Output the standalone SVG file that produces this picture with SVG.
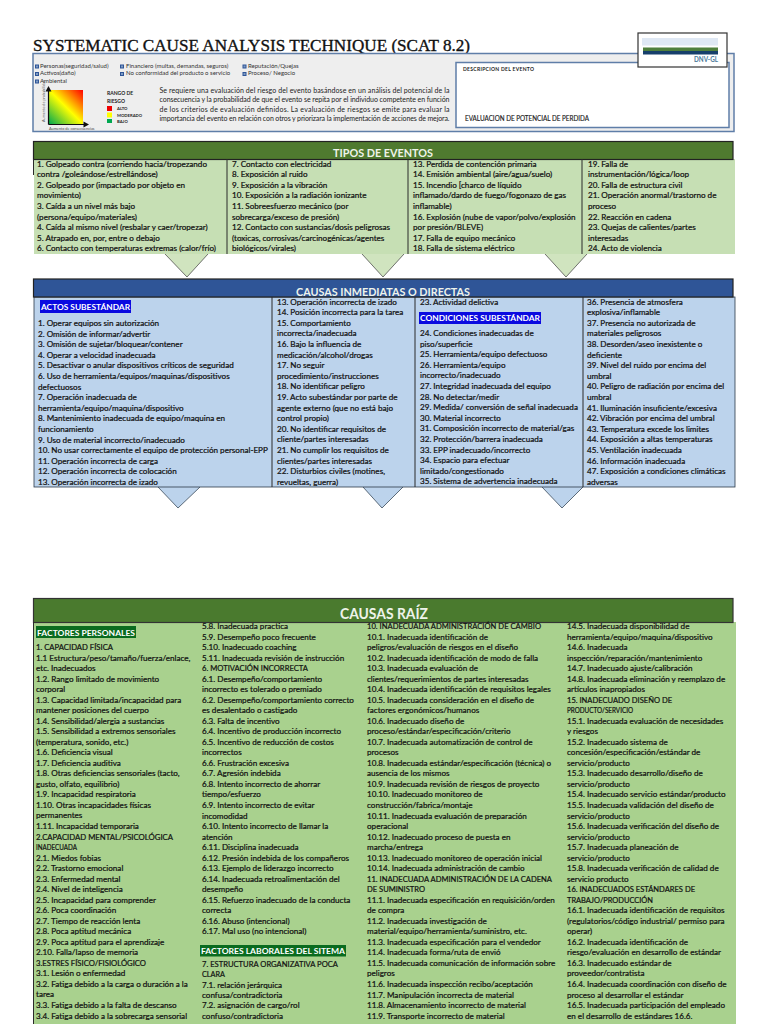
<svg xmlns="http://www.w3.org/2000/svg" width="768" height="1024" viewBox="0 0 768 1024">
<style>
text{font-family:"Lato","Liberation Sans",sans-serif;fill:#1c1c1c}
.b text{font-size:8.1px;fill:#111;stroke:#111;stroke-width:.22px}
.h{font-size:12px;fill:#eef3ea;text-anchor:middle;font-weight:700}
.k{font-weight:700;font-size:8.4px;fill:#fff}
.s{font-size:6px;fill:#333}
.cb{fill:#7f9cc4;stroke:#2f5597;stroke-width:1}
.sep{stroke:#2b2b2b;stroke-width:1;fill:none}
.lg{font-size:4.2px;font-weight:700}
</style>
<defs>
<linearGradient id="risk" x1="0" y1="1" x2="1" y2="0"><stop offset="0" stop-color="#00a84f"/><stop offset=".5" stop-color="#ffff00"/><stop offset="1" stop-color="#ff0000"/></linearGradient>
</defs>
<rect width="768" height="1024" fill="#fff"/>
<g id="title"><text x="33" y="50.500" textLength="437" lengthAdjust="spacingAndGlyphs" style="font-family:'Liberation Serif',serif;font-size:16.500px;fill:#111;stroke:#111;stroke-width:.35px">SYSTEMATIC CAUSE ANALYSIS TECHNIQUE (SCAT 8.2)</text></g>

<g id="header-panel">
<rect x="33" y="53.500" width="701" height="78" fill="#eeeeee" stroke="#5f7ea8" stroke-width="1.500"/>
<rect class="cb" x="35.500" y="65" width="3" height="3"/><text class="s" x="40" y="67.700">Personas(seguridad/salud)</text>
<rect class="cb" x="35.500" y="72.500" width="3" height="3"/><text class="s" x="40" y="74.900">Activos(daño)</text>
<rect class="cb" x="35.500" y="80" width="3" height="3"/><text class="s" x="40" y="83">Ambiental</text>
<rect class="cb" x="120.500" y="65" width="3" height="3"/><text class="s" x="126" y="67.700">Financiero (multas, demandas, seguros)</text>
<rect class="cb" x="120.500" y="72.500" width="3" height="3"/><text class="s" x="126" y="74.900">No conformidad del producto o servicio</text>
<rect class="cb" x="243" y="65" width="3" height="3"/><text class="s" x="248" y="67.700">Reputación/Quejas</text>
<rect class="cb" x="243" y="72.500" width="3" height="3"/><text class="s" x="248" y="74.900">Proceso/ Negocio</text>
<rect x="49" y="90" width="34" height="34" fill="url(#risk)"/>
<path d="M48.500 124.500V90M48.500 124.500H85" stroke="#111" stroke-width="1.200" fill="none"/>
<path d="M48.500 86l-3 5.500h6zM89 124.500l-5.500-3v6z" fill="#111"/>
<text x="45" y="122" transform="rotate(-90 45 122)" style="font-size:3.8px;fill:#555">Aumento de probabilidad</text>
<text x="49" y="129.500" style="font-size:3.800px;fill:#444">Aumento de consecuencias</text>
<text x="107" y="95" style="font-size:5px;font-weight:700">RANGO DE</text>
<text x="107" y="102.500" style="font-size:5px;font-weight:700">RIESGO</text>
<rect x="107" y="106" width="5" height="5" fill="#f00000"/><text class="lg" x="117" y="110">ALTO</text>
<rect x="107" y="112.500" width="5" height="5" fill="#ffff00"/><text class="lg" x="117" y="116.500">MODERADO</text>
<rect x="107" y="119" width="5" height="4" fill="#00a850"/><text class="lg" x="117" y="122.500">BAJO</text>
<g style="font-size:7px;fill:#333"><text x="159.500" y="92.500" textLength="290" lengthAdjust="spacing">Se requiere una evaluación del riesgo del evento basándose en un análisis del potencial de la</text>
<text x="159.500" y="102" textLength="290" lengthAdjust="spacing">consecuencia y la probabilidad de que el evento se repita por el individuo competente en función</text>
<text x="159.500" y="111.500" textLength="290" lengthAdjust="spacing">de los criterios de evaluación definidos. La evaluación de riesgos se emite para evaluar la</text>
<text x="159.500" y="121" textLength="290" lengthAdjust="spacing">importancia del evento en relación con otros y priorizara la implementación de acciones de mejora.</text></g>
</g>
<g id="event-box"><rect x="456" y="62.500" width="273" height="65" fill="#fff" stroke="#5f7ea8" stroke-width="1.500"/>
<text x="463" y="70.500" textLength="71" lengthAdjust="spacing" style="font-size:5px;font-weight:700">DESCRIPCION DEL EVENTO</text>
<text x="465" y="120.500" textLength="124" lengthAdjust="spacingAndGlyphs" style="font-size:7px;stroke:#1c1c1c;stroke-width:.15px">EVALUACION DE POTENCIAL DE PERDIDA</text></g>
<g id="logo"><rect x="638" y="33" width="89" height="34" fill="#fff" stroke="#333" stroke-width="1.200"/>
<rect x="642" y="38" width="76" height="7.500" fill="#dfe8f4"/><rect x="643" y="47.500" width="75" height="3.500" fill="#4f7f3c"/><rect x="643" y="51" width="75" height="3.500" fill="#163f6b"/>
<text x="694" y="61.500" textLength="24" lengthAdjust="spacingAndGlyphs" style="font-size:6.500px;font-weight:700;fill:#4a7a9a">DNV-GL</text></g>

<g id="connectors">
<g fill="#d0e4bf" stroke="#3c3c3c" stroke-width=".7">
<path d="M165 254L187 277L208 254"/><path d="M362 254L383 277L404 254"/><path d="M545 254L566 277L587 254"/></g>
<g fill="#bcd3ec" stroke="#3a4a5a" stroke-width=".8">
<path d="M158 487L178 508L200 487"/><path d="M363 487L382 508L403 487"/><path d="M542 487L562 508L583 487"/></g>
</g>

<g id="tipos-de-eventos">
<rect x="34" y="159" width="701" height="95" fill="#c6dfb4"/>
<rect x="33.500" y="141.500" width="699.500" height="18" fill="#4f7a2f" stroke="#222" stroke-width="1.200"/>
<path class="sep" d="M33.500 159V175M227 159V254M408 159V254M582 159V254"/>
<text class="h" x="383" y="156.500" textLength="100" lengthAdjust="spacingAndGlyphs">TIPOS DE EVENTOS</text>
<g class="b">
<text x="37" y="166.500" textLength="170" lengthAdjust="spacing">1. Golpeado contra (corriendo hacia/tropezando</text>
<text x="37" y="177.100">contra /goleándose/estrellándose)</text>
<text x="37" y="187.700">2. Golpeado por (impactado por objeto en</text>
<text x="37" y="198.300">movimiento)</text>
<text x="37" y="208.900">3. Caída a un nivel más bajo</text>
<text x="37" y="219.500">(persona/equipo/materiales)</text>
<text x="37" y="230.100">4. Caída al mismo nivel (resbalar y caer/tropezar)</text>
<text x="37" y="240.700">5. Atrapado en, por, entre o debajo</text>
<text x="37" y="251.300">6. Contacto con temperaturas extremas (calor/frío)</text>
<text x="232" y="166.500">7. Contacto con electricidad</text>
<text x="232" y="177.100">8. Exposición al ruido</text>
<text x="232" y="187.700">9. Exposición a la vibración</text>
<text x="232" y="198.300">10. Exposición a la radiación ionizante</text>
<text x="232" y="208.900">11. Sobreesfuerzo mecánico (por</text>
<text x="232" y="219.500">sobrecarga/exceso de presión)</text>
<text x="232" y="230.100">12. Contacto con sustancias/dosis peligrosas</text>
<text x="232" y="240.700">(toxicas, corrosivas/carcinogénicas/agentes</text>
<text x="232" y="251.300">biológicos/virales)</text>
<text x="413" y="166.500">13. Perdida de contención primaria</text>
<text x="413" y="177.100">14. Emisión ambiental (aire/agua/suelo)</text>
<text x="413" y="187.700">15. Incendio [charco de líquido</text>
<text x="413" y="198.300">inflamado/dardo de fuego/fogonazo de gas</text>
<text x="413" y="208.900">inflamable)</text>
<text x="413" y="219.500">16. Explosión (nube de vapor/polvo/explosión</text>
<text x="413" y="230.100">por presión/BLEVE)</text>
<text x="413" y="240.700">17. Falla de equipo mecánico</text>
<text x="413" y="251.300">18. Falla de sistema eléctrico</text>
<text x="588" y="166.500">19. Falla de</text>
<text x="588" y="177.100">instrumentación/lógica/loop</text>
<text x="588" y="187.700">20. Falla de estructura civil</text>
<text x="588" y="198.300">21. Operación anormal/trastorno de</text>
<text x="588" y="208.900">proceso</text>
<text x="588" y="219.500">22.  Reacción en cadena</text>
<text x="588" y="230.100">23. Quejas de calientes/partes</text>
<text x="588" y="240.700">interesadas</text>
<text x="588" y="251.300">24. Acto de violencia</text>
</g></g>

<g id="causas-inmediatas">
<rect x="34" y="297" width="701" height="190" fill="#bcd3ec" stroke="#2b3a4a" stroke-width=".8"/>
<rect x="33.500" y="279" width="699.500" height="18" fill="#2f5597" stroke="#222" stroke-width="1.200"/>
<path class="sep" d="M272 297V487M415 297V487M583 297V487"/>
<text class="h" x="383" y="295.500" textLength="174" lengthAdjust="spacingAndGlyphs">CAUSAS INMEDIATAS O DIRECTAS</text>
<rect x="40" y="300" width="91" height="13" fill="#0a0ae0"/><text class="k" x="41" y="310" textLength="89" lengthAdjust="spacingAndGlyphs">ACTOS SUBESTÁNDAR</text>
<rect x="419" y="312" width="122" height="12" fill="#0a0ae0"/><text class="k" x="420" y="321" textLength="120" lengthAdjust="spacingAndGlyphs">CONDICIONES SUBESTÁNDAR</text>
<g class="b">
<text x="38" y="326">1. Operar equipos sin autorización</text>
<text x="38" y="336.600">2. Omisión de informar/advertir</text>
<text x="38" y="347.200">3. Omisión de sujetar/bloquear/contener</text>
<text x="38" y="357.800">4. Operar a velocidad inadecuada</text>
<text x="38" y="368.400">5. Desactivar o anular dispositivos críticos de seguridad</text>
<text x="38" y="379">6. Uso de herramienta/equipos/maquinas/dispositivos</text>
<text x="38" y="389.600">defectuosos</text>
<text x="38" y="400.200">7. Operación inadecuada de</text>
<text x="38" y="410.800">herramienta/equipo/maquina/dispositivo</text>
<text x="38" y="421.400">8. Mantenimiento inadecuada de equipo/maquina en</text>
<text x="38" y="432">funcionamiento</text>
<text x="38" y="442.600">9. Uso de material incorrecto/inadecuado</text>
<text x="38" y="453.200">10. No usar correctamente el equipo de protección personal-EPP</text>
<text x="38" y="463.800">11. Operación incorrecta de carga</text>
<text x="38" y="474.400">12. Operación incorrecta de colocación</text>
<text x="38" y="485">13. Operación incorrecta de izado</text>
<text x="277" y="304.500">13. Operación incorrecta de izado</text>
<text x="277" y="315.100">14. Posición incorrecta para la tarea</text>
<text x="277" y="325.700">15. Comportamiento</text>
<text x="277" y="336.300">incorrecta/inadecuada</text>
<text x="277" y="346.900">16. Bajo la influencia de</text>
<text x="277" y="357.500">medicación/alcohol/drogas</text>
<text x="277" y="368.100">17. No seguir</text>
<text x="277" y="378.700">procedimiento/instrucciones</text>
<text x="277" y="389.300">18. No identificar peligro</text>
<text x="277" y="399.900">19. Acto subestándar por parte de</text>
<text x="277" y="410.500">agente externo (que no está bajo</text>
<text x="277" y="421.100">control propio)</text>
<text x="277" y="431.700">20. No identificar requisitos de</text>
<text x="277" y="442.300">cliente/partes interesadas</text>
<text x="277" y="452.900">21. No cumplir los requisitos de</text>
<text x="277" y="463.500">clientes/partes interesadas</text>
<text x="277" y="474.100">22. Disturbios civiles (motines,</text>
<text x="277" y="484.700">revueltas, guerra)</text>
<text x="420" y="304.500">23. Actividad delictiva</text>
<text x="420" y="336">24. Condiciones inadecuadas de</text>
<text x="420" y="346.600">piso/superficie</text>
<text x="420" y="357.200">25. Herramienta/equipo defectuoso</text>
<text x="420" y="367.800">26. Herramienta/equipo</text>
<text x="420" y="378.400">incorrecto/inadecuado</text>
<text x="420" y="389">27. Integridad inadecuada del equipo</text>
<text x="420" y="399.600">28. No detectar/medir</text>
<text x="420" y="410.200">29. Medida/ conversión de señal inadecuada</text>
<text x="420" y="420.800">30. Material incorrecto</text>
<text x="420" y="431.400">31. Composición incorrecto de material/gas</text>
<text x="420" y="442">32. Protección/barrera inadecuada</text>
<text x="420" y="452.600">33. EPP inadecuado/incorrecto</text>
<text x="420" y="463.200">34. Espacio para efectuar</text>
<text x="420" y="473.800">limitado/congestionado</text>
<text x="420" y="484.400">35. Sistema de advertencia inadecuada</text>
<text x="587" y="304.500">36. Presencia de atmosfera</text>
<text x="587" y="315.100">explosiva/inflamable</text>
<text x="587" y="325.700">37. Presencia no autorizada de</text>
<text x="587" y="336.300">materiales peligrosos</text>
<text x="587" y="346.900">38. Desorden/aseo inexistente o</text>
<text x="587" y="357.500">deficiente</text>
<text x="587" y="368.100">39. Nivel del ruido por encima del</text>
<text x="587" y="378.700">umbral</text>
<text x="587" y="389.300">40. Peligro de radiación por encima del</text>
<text x="587" y="399.900">umbral</text>
<text x="587" y="410.500">41. Iluminación insuficiente/excesiva</text>
<text x="587" y="421.100">42. Vibración por encima del umbral</text>
<text x="587" y="431.700">43. Temperatura excede los limites</text>
<text x="587" y="442.300">44. Exposición a altas temperaturas</text>
<text x="587" y="452.900">45. Ventilación inadecuada</text>
<text x="587" y="463.500">46. Información inadecuada</text>
<text x="587" y="474.100">47. Exposición a condiciones climáticas</text>
<text x="587" y="484.700">adversas</text>
</g></g>

<g id="causas-raiz">
<rect x="34" y="622" width="702" height="402" fill="#a9d18e"/>
<rect x="33.500" y="598.500" width="699.500" height="24" fill="#4a7a2e" stroke="#333" stroke-width="1.200"/>
<path class="sep" d="M33.500 622V1024"/>
<text class="h" x="384" y="619" textLength="88" lengthAdjust="spacingAndGlyphs" style="font-size:15.500px">CAUSAS RAÍZ</text>
<rect x="36" y="626" width="100" height="12" fill="#0a6b1f"/><text class="k" x="37" y="635.500" textLength="98" lengthAdjust="spacingAndGlyphs">FACTORES PERSONALES</text>
<rect x="200" y="945" width="146" height="11.500" fill="#0a6b1f"/><text class="k" x="201" y="954" textLength="144" lengthAdjust="spacingAndGlyphs">FACTORES LABORALES DEL SITEMA</text>
<g class="b">
<text x="36" y="650" textLength="77" lengthAdjust="spacingAndGlyphs">1. CAPACIDAD FÍSICA</text>
<text x="36" y="660.530">1.1 Estructura/peso/tamaño/fuerza/enlace,</text>
<text x="36" y="671.060">etc. Inadecuados</text>
<text x="36" y="681.590">1.2. Rango limitado de movimiento</text>
<text x="36" y="692.120">corporal</text>
<text x="36" y="702.650">1.3. Capacidad limitada/incapacidad para</text>
<text x="36" y="713.180">mantener posiciones del cuerpo</text>
<text x="36" y="723.710">1.4. Sensibilidad/alergia a sustancias</text>
<text x="36" y="734.240">1.5. Sensibilidad a extremos sensoriales</text>
<text x="36" y="744.770">(temperatura, sonido, etc.)</text>
<text x="36" y="755.300">1.6. Deficiencia visual</text>
<text x="36" y="765.830">1.7. Deficiencia auditiva</text>
<text x="36" y="776.360">1.8. Otras deficiencias sensoriales (tacto,</text>
<text x="36" y="786.890">gusto, olfato, equilibrio)</text>
<text x="36" y="797.420">1.9. Incapacidad respiratoria</text>
<text x="36" y="807.950">1.10. Otras incapacidades físicas</text>
<text x="36" y="818.480">permanentes</text>
<text x="36" y="829.010">1.11. Incapacidad temporaria</text>
<text x="36" y="839.540" textLength="137" lengthAdjust="spacingAndGlyphs">2.CAPACIDAD MENTAL/PSICOLÓGICA</text>
<text x="36" y="850.070" textLength="41" lengthAdjust="spacingAndGlyphs">INADECUADA</text>
<text x="36" y="860.600">2.1. Miedos fobias</text>
<text x="36" y="871.130">2.2. Trastorno emocional</text>
<text x="36" y="881.660">2.3. Enfermedad mental</text>
<text x="36" y="892.190">2.4. Nivel de inteligencia</text>
<text x="36" y="902.720">2.5. Incapacidad para comprender</text>
<text x="36" y="913.250">2.6. Poca coordinación</text>
<text x="36" y="923.780">2.7. Tiempo de reacción lenta</text>
<text x="36" y="934.310">2.8. Poca aptitud mecánica</text>
<text x="36" y="944.840">2.9. Poca aptitud para el aprendizaje</text>
<text x="36" y="955.370">2.10. Falla/lapso de memoria</text>
<text x="36" y="965.900" textLength="110" lengthAdjust="spacingAndGlyphs">3.ESTRES FÍSICO/FISIOLÓGICO</text>
<text x="36" y="976.430">3.1. Lesión o enfermedad</text>
<text x="36" y="986.960">3.2. Fatiga debido a la carga o duración a la</text>
<text x="36" y="997.490">tarea</text>
<text x="36" y="1008.020">3.3. Fatiga debido a la falta de descanso</text>
<text x="36" y="1018.550">3.4. Fatiga debido a la sobrecarga sensorial</text>
<text x="202" y="629">5.8. Inadecuada practica</text>
<text x="202" y="639.530">5.9. Desempeño poco frecuente</text>
<text x="202" y="650.060">5.10. Inadecuado coaching</text>
<text x="202" y="660.590">5.11. Inadecuada revisión de instrucción</text>
<text x="202" y="671.120" textLength="106" lengthAdjust="spacingAndGlyphs">6. MOTIVACIÓN INCORRECTA</text>
<text x="202" y="681.650">6.1. Desempeño/comportamiento</text>
<text x="202" y="692.180">incorrecto es tolerado o premiado</text>
<text x="202" y="702.710">6.2. Desempeño/comportamiento correcto</text>
<text x="202" y="713.240">es desalentado o castigado</text>
<text x="202" y="723.770">6.3. Falta de incentivo</text>
<text x="202" y="734.300">6.4. Incentivo de producción incorrecto</text>
<text x="202" y="744.830">6.5. Incentivo de reducción de costos</text>
<text x="202" y="755.360">incorrectos</text>
<text x="202" y="765.890">6.6. Frustración excesiva</text>
<text x="202" y="776.420">6.7. Agresión indebida</text>
<text x="202" y="786.950">6.8. Intento incorrecto de ahorrar</text>
<text x="202" y="797.480">tiempo/esfuerzo</text>
<text x="202" y="808.010">6.9. Intento incorrecto de evitar</text>
<text x="202" y="818.540">incomodidad</text>
<text x="202" y="829.070">6.10. Intento incorrecto de llamar la</text>
<text x="202" y="839.600">atención</text>
<text x="202" y="850.130">6.11. Disciplina inadecuada</text>
<text x="202" y="860.660">6.12. Presión indebida de los compañeros</text>
<text x="202" y="871.190">6.13. Ejemplo de liderazgo incorrecto</text>
<text x="202" y="881.720">6.14. Inadecuada retroalimentación del</text>
<text x="202" y="892.250">desempeño</text>
<text x="202" y="902.780">6.15. Refuerzo inadecuado de la conducta</text>
<text x="202" y="913.310">correcta</text>
<text x="202" y="923.840">6.16. Abuso (intencional)</text>
<text x="202" y="934.370">6.17. Mal uso (no intencional)</text>
<text x="202" y="967" textLength="136" lengthAdjust="spacingAndGlyphs">7. ESTRUCTURA ORGANIZATIVA POCA</text>
<text x="202" y="977.300" textLength="23" lengthAdjust="spacingAndGlyphs">CLARA</text>
<text x="202" y="987.600">7.1. relación jerárquica</text>
<text x="202" y="997.900">confusa/contradictoria</text>
<text x="202" y="1008.200">7.2. asignación de cargo/rol</text>
<text x="202" y="1018.500">confuso/contradictoria</text>
<text x="367" y="629" textLength="174" lengthAdjust="spacingAndGlyphs">10. INADECUADA ADMINISTRACIÓN DE CAMBIO</text>
<text x="367" y="639.530">10.1. Inadecuada identificación de</text>
<text x="367" y="650.060">peligros/evaluación de riesgos en el diseño</text>
<text x="367" y="660.590">10.2. Inadecuada identificación de modo de falla</text>
<text x="367" y="671.120">10.3. Inadecuada evaluación de</text>
<text x="367" y="681.650">clientes/requerimientos de partes interesadas</text>
<text x="367" y="692.180">10.4. Inadecuada identificación de requisitos legales</text>
<text x="367" y="702.710">10.5. Inadecuada consideración en el diseño de</text>
<text x="367" y="713.240">factores ergonómicos/humanos</text>
<text x="367" y="723.770">10.6. Inadecuado diseño de</text>
<text x="367" y="734.300">proceso/estándar/especificación/criterio</text>
<text x="367" y="744.830">10.7. Inadecuada automatización de control de</text>
<text x="367" y="755.360">procesos</text>
<text x="367" y="765.890">10.8. Inadecuada estándar/especificación (técnica) o</text>
<text x="367" y="776.420">ausencia de los mismos</text>
<text x="367" y="786.950">10.9. Inadecuada revisión de riesgos de proyecto</text>
<text x="367" y="797.480">10.10. Inadecuado monitoreo de</text>
<text x="367" y="808.010">construcción/fabrica/montaje</text>
<text x="367" y="818.540">10.11. Inadecuada evaluación de preparación</text>
<text x="367" y="829.070">operacional</text>
<text x="367" y="839.600">10.12. Inadecuado proceso de puesta en</text>
<text x="367" y="850.130">marcha/entrega</text>
<text x="367" y="860.660">10.13. Inadecuado monitoreo de operación inicial</text>
<text x="367" y="871.190">10.14. Inadecuada administración de cambio</text>
<text x="367" y="881.720" textLength="185" lengthAdjust="spacingAndGlyphs">11. INADECUADA ADMINISTRACIÓN DE LA CADENA</text>
<text x="367" y="892.250" textLength="58" lengthAdjust="spacingAndGlyphs">DE SUMINISTRO</text>
<text x="367" y="902.780">11.1. Inadecuada especificación en requisición/orden</text>
<text x="367" y="913.310">de compra</text>
<text x="367" y="923.840">11.2. Inadecuada investigación de</text>
<text x="367" y="934.370">material/equipo/herramienta/suministro, etc.</text>
<text x="367" y="944.900">11.3. Inadecuada especificación para el vendedor</text>
<text x="367" y="955.430">11.4. Inadecuada forma/ruta de envió</text>
<text x="367" y="965.960">11.5. Inadecuada comunicación de información sobre</text>
<text x="367" y="976.490">peligros</text>
<text x="367" y="987.020">11.6. Inadecuada inspección recibo/aceptación</text>
<text x="367" y="997.550">11.7. Manipulación incorrecta de material</text>
<text x="367" y="1008.080">11.8. Almacenamiento incorrecto de material</text>
<text x="367" y="1018.610">11.9. Transporte incorrecto de material</text>
<text x="567" y="629">14.5. Inadecuada disponibilidad de</text>
<text x="567" y="639.530">herramienta/equipo/maquina/dispositivo</text>
<text x="567" y="650.060">14.6. Inadecuada</text>
<text x="567" y="660.590">inspección/reparación/mantenimiento</text>
<text x="567" y="671.120">14.7. Inadecuado ajuste/calibración</text>
<text x="567" y="681.650">14.8. Inadecuada eliminación y reemplazo de</text>
<text x="567" y="692.180">artículos inapropiados</text>
<text x="567" y="702.710" textLength="105" lengthAdjust="spacingAndGlyphs">15. INADECUADO DISEÑO DE</text>
<text x="567" y="713.240" textLength="66" lengthAdjust="spacingAndGlyphs">PRODUCTO/SERVICIO</text>
<text x="567" y="723.770">15.1. Inadecuada evaluación de necesidades</text>
<text x="567" y="734.300">y riesgos</text>
<text x="567" y="744.830">15.2. Inadecuado sistema de</text>
<text x="567" y="755.360">concesión/especificación/estándar de</text>
<text x="567" y="765.890">servicio/producto</text>
<text x="567" y="776.420">15.3. Inadecuado desarrollo/diseño de</text>
<text x="567" y="786.950">servicio/producto</text>
<text x="567" y="797.480">15.4. Inadecuado servicio estándar/producto</text>
<text x="567" y="808.010">15.5. Inadecuada validación del diseño de</text>
<text x="567" y="818.540">servicio/producto</text>
<text x="567" y="829.070">15.6. Inadecuada verificación del diseño de</text>
<text x="567" y="839.600">servicio/producto</text>
<text x="567" y="850.130">15.7. Inadecuada planeación de</text>
<text x="567" y="860.660">servicio/producto</text>
<text x="567" y="871.190">15.8. Inadecuada verificación de calidad de</text>
<text x="567" y="881.720">servicio producto</text>
<text x="567" y="892.250" textLength="128" lengthAdjust="spacingAndGlyphs">16. INADECUADOS ESTÁNDARES DE</text>
<text x="567" y="902.780" textLength="86" lengthAdjust="spacingAndGlyphs">TRABAJO/PRODUCCIÓN</text>
<text x="567" y="913.310">16.1. Inadecuada identificación de requisitos</text>
<text x="567" y="923.840">(regulatorios/código industrial/ permiso para</text>
<text x="567" y="934.370">operar)</text>
<text x="567" y="944.900">16.2. Inadecuada identificación de</text>
<text x="567" y="955.430">riesgo/evaluación en desarrollo de estándar</text>
<text x="567" y="965.960">16.3. Inadecuado estándar de</text>
<text x="567" y="976.490">proveedor/contratista</text>
<text x="567" y="987.020">16.4. Inadecuada coordinación con diseño de</text>
<text x="567" y="997.550">proceso al desarrollar el estándar</text>
<text x="567" y="1008.080">16.5. Inadecuada participación del empleado</text>
<text x="567" y="1018.610">en el desarrollo de estándares 16.6.</text>
</g></g>
</svg>
